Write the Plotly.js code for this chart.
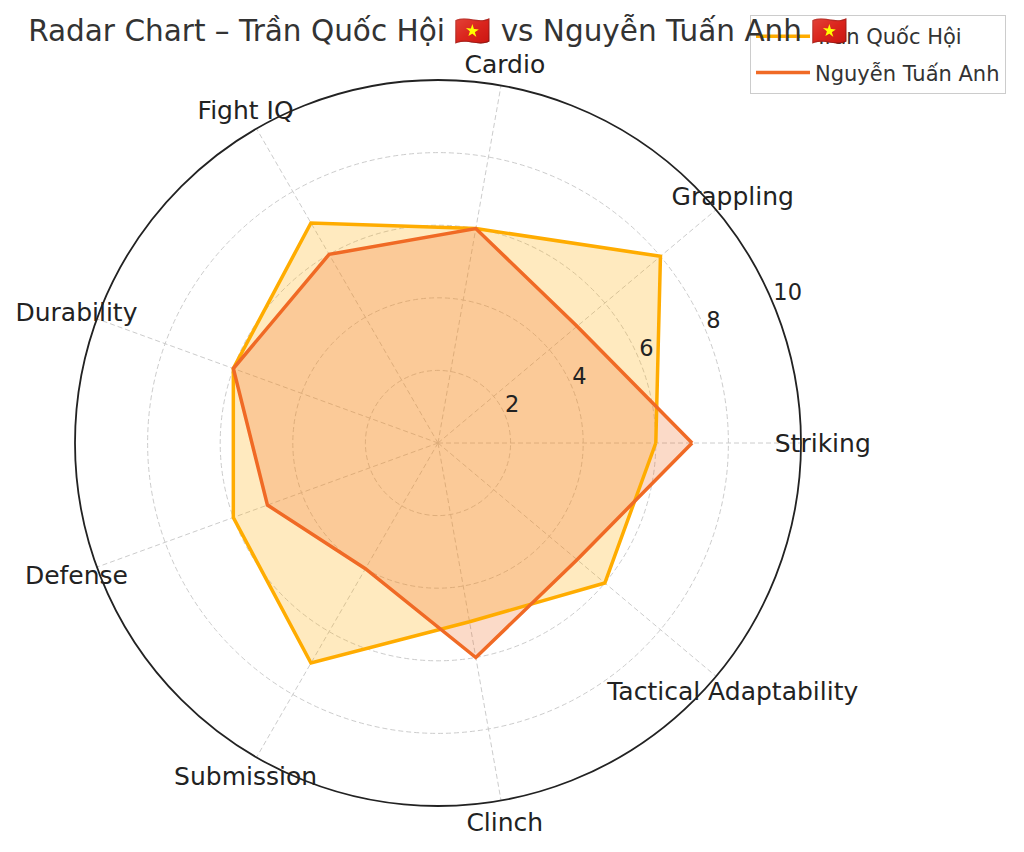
<!DOCTYPE html>
<html>
<head>
<meta charset="utf-8">
<script src="https://cdn.plot.ly/plotly-3.0.1.min.js"></script>
<style>html,body{margin:0;padding:0;background:#fff;}#chart{width:1024px;height:852px;}</style>
</head>
<body>
<div id="chart"></div>
<script>
const categories = ['Striking','Grappling','Cardio','Fight IQ','Durability','Defense','Submission','Clinch','Tactical Adaptability'];
const hoiValues = [6, 8, 6, 7, 6, 6, 7, 5, 6];
const anhValues = [7, 5, 6, 6, 6, 5, 4, 6, 5];
const seriesNames = ['Trần Quốc Hội', 'Nguyễn Tuấn Anh'];
const radialTicks = [2, 4, 6, 8, 10];
const titleText = 'Radar Chart – Trần Quốc Hội 🇻🇳 vs Nguyễn Tuấn Anh 🇻🇳';

const hoiColor = '#FFAC00';
const anhColor = '#F06A25';
const FONT = 'DejaVu Sans, sans-serif';

// layout geometry (pixels)
const W = 1024, H = 852, CX = 438, CY = 443, R = 363;
const RMAX = 10, LABEL_R = 10.6, OUTER_MAX = 11, TICK_ANGLE = 22.5;
const LABEL_DY = 3, TICK_DY = 2;
function domainFor(radiusPx, dy){
  dy = dy || 0;
  return {x:[(CX-radiusPx)/W, (CX+radiusPx)/W], y:[1-(CY+dy+radiusPx)/H, 1-(CY+dy-radiusPx)/H]};
}

function closed(arr){ return arr.concat([arr[0]]); }
const thetaClosed = closed(categories);

const traces = [
  {type:'scatterpolar', r: closed(hoiValues), theta: thetaClosed, mode:'none', fill:'toself',
   fillcolor:'rgba(255,172,0,0.25)', showlegend:false, hoverinfo:'skip'},
  {type:'scatterpolar', r: closed(anhValues), theta: thetaClosed, mode:'none', fill:'toself',
   fillcolor:'rgba(240,106,37,0.25)', showlegend:false, hoverinfo:'skip'},
  {type:'scatterpolar', r: closed(hoiValues), theta: thetaClosed, mode:'lines', name: seriesNames[0],
   legendgroup:'a', line:{color:hoiColor, width:3.5}},
  {type:'scatterpolar', r: closed(anhValues), theta: thetaClosed, mode:'lines', name: seriesNames[1],
   legendgroup:'b', line:{color:anhColor, width:3.5}},
  // category labels (outer invisible polar with same centre)
  {type:'scatterpolar', subplot:'polar2', r: categories.map(()=>LABEL_R), theta: categories, mode:'text',
   text: categories, textposition:'middle center', textfont:{family:FONT, size:25, color:'#222'},
   showlegend:false, hoverinfo:'skip'},
  // radial tick labels
  {type:'scatterpolar', subplot:'polar3', r: radialTicks, theta: radialTicks.map(()=>TICK_ANGLE), mode:'text',
   text: radialTicks.map(String), textposition:'top right', textfont:{family:FONT, size:22.5, color:'#222'},
   showlegend:false, hoverinfo:'skip'}
];

const layout = {
  width:W, height:H,
  margin:{l:0,r:0,t:0,b:0},
  paper_bgcolor:'#fff',
  font:{family:FONT, color:'#222'},
  title:{text:titleText, x:0.428, xanchor:'center', y:0.9636, yanchor:'middle',
         font:{family:FONT, size:29.5, color:'#333'}},
  showlegend:true,
  legend:{x:750/W, y:1-15/H, xanchor:'left', yanchor:'top', bgcolor:'rgba(255,255,255,0.8)',
          bordercolor:'#cccccc', borderwidth:1, font:{family:FONT, size:21, color:'#333'},
          itemwidth:54, tracegroupgap:6},
  polar:{
    domain:domainFor(R),
    bgcolor:'#fff',
    radialaxis:{range:[0,RMAX], tickvals:radialTicks, showticklabels:false,
      showline:false, ticks:'', angle:TICK_ANGLE,
      gridcolor:'#cccccc', griddash:'5px,3px', gridwidth:1},
    angularaxis:{type:'category', categoryarray:categories, rotation:0, direction:'counterclockwise',
      showticklabels:false, ticks:'', showline:true, linecolor:'#222', linewidth:1.8,
      gridcolor:'#cccccc', griddash:'5px,3px', gridwidth:1}
  },
  polar2:{domain:domainFor(R*OUTER_MAX/RMAX, LABEL_DY), bgcolor:'rgba(0,0,0,0)',
    radialaxis:{visible:false, range:[0,OUTER_MAX]},
    angularaxis:{visible:false, type:'category', categoryarray:categories, rotation:0, direction:'counterclockwise'}},
  polar3:{domain:domainFor(R, TICK_DY), bgcolor:'rgba(0,0,0,0)',
    radialaxis:{visible:false, range:[0,RMAX]},
    angularaxis:{visible:false, type:'linear', thetaunit:'degrees', rotation:0, direction:'counterclockwise'}}
};

Plotly.newPlot('chart', traces, layout, {displayModeBar:false, staticPlot:true});
</script>
</body>
</html>
